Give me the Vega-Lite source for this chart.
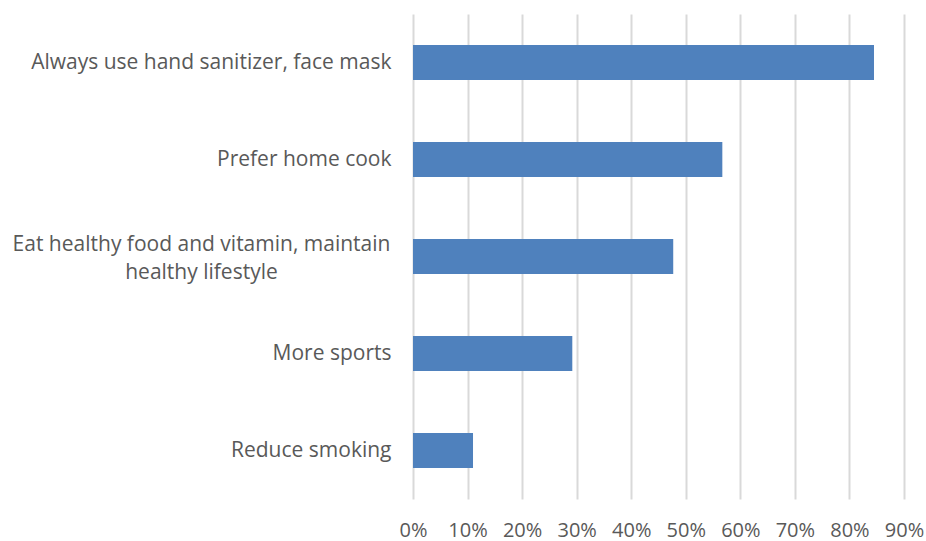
{
  "$schema": "https://vega.github.io/schema/vega-lite/v6.json",
  "autosize": {"type": "none"},
  "padding": {"left": 413, "top": 14, "right": 22, "bottom": 42},
  "width": 491,
  "height": 485,
  "background": "white",
  "data": {
    "values": [
      {"item": "Always use hand sanitizer, face mask", "share": 0.845},
      {"item": "Prefer home cook", "share": 0.567},
      {"item": "Eat healthy food and vitamin, maintain healthy lifestyle", "share": 0.477},
      {"item": "More sports", "share": 0.292},
      {"item": "Reduce smoking", "share": 0.110}
    ]
  },
  "mark": {"type": "bar", "color": "#4f81bd"},
  "encoding": {
    "y": {
      "field": "item",
      "type": "nominal",
      "sort": null,
      "scale": {"paddingInner": 0.64, "paddingOuter": 0.32},
      "axis": {
        "title": null,
        "domain": false,
        "ticks": false,
        "grid": false,
        "labelFont": "Open Sans",
        "labelFontSize": 21,
        "labelColor": "#595959",
        "labelAlign": {"condition": {"test": "datum.value == 'Eat healthy food and vitamin, maintain healthy lifestyle'", "value": "center"}, "value": "right"},
        "labelPadding": {"condition": {"test": "datum.value == 'Eat healthy food and vitamin, maintain healthy lifestyle'", "value": 212}, "value": 22},
        "labelOffset": {"condition": {"test": "datum.value == 'Eat healthy food and vitamin, maintain healthy lifestyle'", "value": -12}, "value": 0},
        "labelLimit": 500,
        "labelLineHeight": 28,
        "labelExpr": "datum.value == 'Eat healthy food and vitamin, maintain healthy lifestyle' ? ['Eat healthy food and vitamin, maintain', 'healthy lifestyle'] : datum.value"
      }
    },
    "x": {
      "field": "share",
      "type": "quantitative",
      "scale": {"domain": [0, 0.9], "nice": false},
      "axis": {
        "title": null,
        "format": ".0%",
        "values": [0, 0.1, 0.2, 0.3, 0.4, 0.5, 0.6, 0.7, 0.8, 0.9],
        "domain": false,
        "ticks": false,
        "grid": true,
        "gridColor": "#d9d9d9",
        "gridWidth": 2,
        "labelFont": "Open Sans",
        "labelFontSize": 20,
        "labelColor": "#595959",
        "labelPadding": 21,
        "labelFlush": false
      }
    }
  },
  "config": {"view": {"stroke": null}}
}
